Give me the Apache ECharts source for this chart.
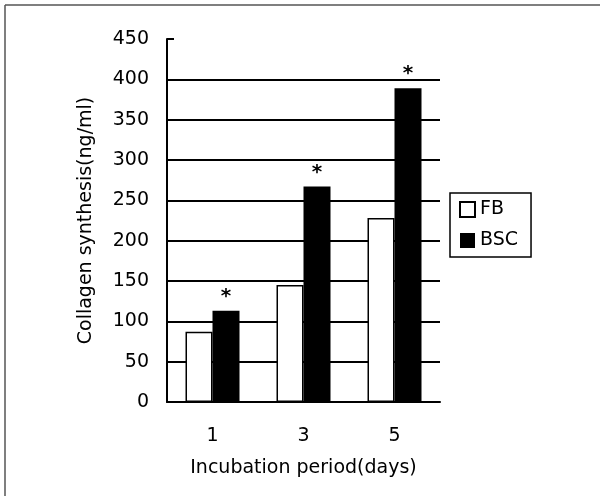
<!DOCTYPE html>
<html>
<head>
<meta charset="utf-8">
<script src="https://cdn.jsdelivr.net/npm/echarts@6/dist/echarts.min.js"></script>
<style>
  html, body { margin: 0; padding: 0; background: #fff; }
  #container { width: 600px; height: 496px; }
</style>
</head>
<body>
<div id="container"></div>
<script>
var dom = document.getElementById("container");
var myChart = echarts.init(dom);

var days = ['1', '3', '5'];
var fbValues = [87, 145, 228];
var bscValues = [113, 267, 389];
var bscMarks = ['*', '*', '*'];

var fontFam = '"DejaVu Sans", Arial, sans-serif';

var option = {
    backgroundColor: '#fff',
    animation: false,
    textStyle: { fontFamily: fontFam, color: '#000' },
    grid: {
        left: 167,
        right: 160,
        top: 39,
        bottom: 94
    },
    legend: {
        orient: 'vertical',
        left: 450,
        top: 193,
        padding: [7, 13, 7, 9],
        borderColor: '#000',
        borderWidth: 1.5,
        itemWidth: 15,
        itemHeight: 15,
        itemGap: 12,
        icon: 'rect',
        textStyle: { fontSize: 19, color: '#000', fontFamily: fontFam },
        data: ['FB', 'BSC']
    },
    xAxis: {
        type: 'category',
        data: days,
        name: 'Incubation period(days)',
        nameLocation: 'middle',
        nameGap: 57,
        nameTextStyle: { fontSize: 19, color: '#000', fontFamily: fontFam },
        axisLine: { lineStyle: { color: '#000', width: 2 } },
        axisTick: { inside: true, length: 6, lineStyle: { color: '#000', width: 2 } },
        axisLabel: { margin: 25, fontSize: 19, color: '#000', fontFamily: fontFam }
    },
    yAxis: {
        type: 'value',
        min: 0,
        max: 450,
        interval: 50,
        name: 'Collagen synthesis(ng/ml)',
        nameLocation: 'middle',
        nameGap: 71,
        nameTextStyle: { fontSize: 19, color: '#000', fontFamily: fontFam },
        axisLine: { show: true, lineStyle: { color: '#000', width: 2 } },
        axisTick: { show: true, inside: true, length: 7, lineStyle: { color: '#000', width: 2 } },
        axisLabel: { margin: 18, fontSize: 19, color: '#000', fontFamily: fontFam },
        splitLine: { show: true, showMaxLine: false, lineStyle: { color: '#000', width: 2 } }
    },
    graphic: [{
        type: 'line',
        shape: { x1: 5, y1: 5, x2: 600, y2: 5 },
        style: { stroke: '#555', lineWidth: 1.5 }
    }, {
        type: 'line',
        shape: { x1: 5, y1: 5, x2: 5, y2: 496 },
        style: { stroke: '#555', lineWidth: 1.5 }
    }],
    series: [{
        name: 'FB',
        type: 'bar',
        barWidth: 27,
        barGap: '0%',
        itemStyle: { color: '#fff', borderColor: '#000', borderWidth: 1.5 },
        data: fbValues
    }, {
        name: 'BSC',
        type: 'bar',
        barWidth: 27,
        itemStyle: { color: '#000' },
        label: {
            show: true,
            position: 'top',
            distance: 4,
            fontSize: 20,
            fontWeight: 'bold',
            color: '#000',
            fontFamily: fontFam,
            formatter: function (p) { return bscMarks[p.dataIndex]; }
        },
        data: bscValues
    }]
};

myChart.setOption(option);
</script>
</body>
</html>
